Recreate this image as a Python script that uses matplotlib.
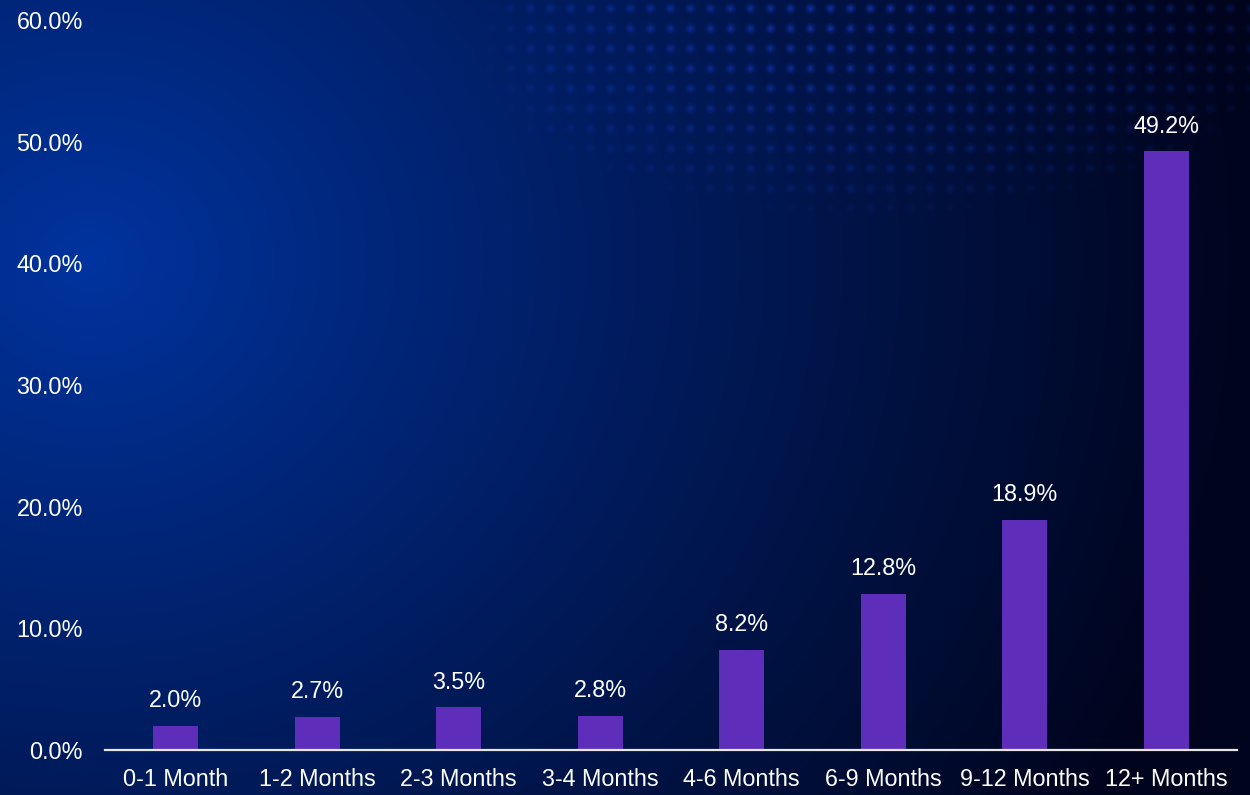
import numpy as np
import matplotlib
matplotlib.use("Agg")
import matplotlib.pyplot as plt

plt.rcParams["font.family"] = ["Liberation Sans", "DejaVu Sans"]

categories = ["0-1 Month", "1-2 Months", "2-3 Months", "3-4 Months",
              "4-6 Months", "6-9 Months", "9-12 Months", "12+ Months"]
shares = [2.0, 2.7, 3.5, 2.8, 8.2, 12.8, 18.9, 49.2]
y_ticks = [0, 10, 20, 30, 40, 50, 60]

W, H = 1250, 795
fig = plt.figure(figsize=(W / 100, H / 100), dpi=100)

# Background: radial blue glow on the left fading to near black on the right
yy, xx = np.mgrid[0:H, 0:W].astype(float)
d = np.hypot(xx - 90, (yy - 260) * 1.1)
t = np.clip(d / 1180, 0, 1) ** 0.9
inner = np.array([0, 52, 160]) / 255
outer = np.array([0, 4, 28]) / 255
img = inner[None, None, :] * (1 - t[..., None]) + outer[None, None, :] * t[..., None]

# Halftone dot field in the upper middle
dot_col = np.array([30, 65, 225]) / 255
gx = (xx - 490) % 20
gy = (yy - 8) % 20
gx = np.minimum(gx, 20 - gx)
gy = np.minimum(gy, 20 - gy)
dot = np.clip(1 - np.hypot(gx, gy) / 6.5, 0, 1) ** 1.2
field = np.clip(1 - np.hypot((xx - 870) / 440, yy / 215), 0, 1) ** 0.6
field *= np.clip((xx - 470) / 60, 0, 1)
strength = (dot * field * 0.65)[..., None]
img = img * (1 - strength) + dot_col[None, None, :] * strength

bg = fig.add_axes([0, 0, 1, 1], zorder=0)
bg.imshow(img, aspect="auto", extent=[0, W, H, 0], interpolation="bilinear")
bg.axis("off")

ax = fig.add_axes([105 / W, (H - 750) / H, 1132 / W, 730 / H], zorder=1)
ax.patch.set_alpha(0)
x = np.arange(len(categories))
bars = ax.bar(x, shares, width=0.32, color="#5e2db9", zorder=2)
for xi, v in zip(x, shares):
    ax.annotate(f"{v:.1f}%", (xi, v), xytext=(0, 10), textcoords="offset points",
                ha="center", va="bottom", color="white", fontsize=16.8)

ax.set_xlim(-0.5, len(categories) - 0.5)
ax.set_ylim(0, 60)
ax.set_yticks(y_ticks)
ax.set_yticklabels([f"{v:.1f}%" for v in y_ticks])
ax.set_xticks(x)
ax.set_xticklabels(categories)
ax.tick_params(axis="both", length=0, colors="white", labelsize=16.8)
ax.tick_params(axis="y", pad=16)
ax.tick_params(axis="x", pad=13)
for s in ["top", "right", "left"]:
    ax.spines[s].set_visible(False)
ax.spines["bottom"].set_color("#e6e6e6")
ax.spines["bottom"].set_linewidth(1.6)

fig.savefig("out.png", dpi=100)
